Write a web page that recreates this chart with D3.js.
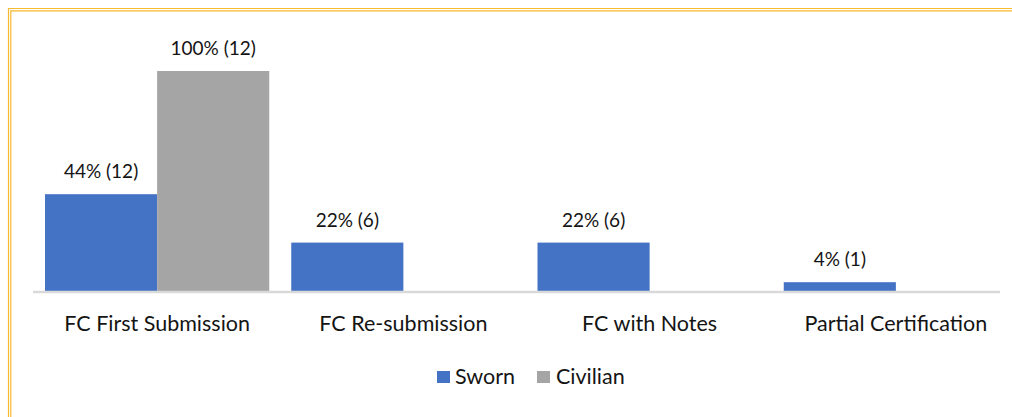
<!DOCTYPE html>
<html>
<head>
<meta charset="utf-8">
<script src="https://cdn.jsdelivr.net/npm/d3@7"></script>
<style>
  html, body { margin: 0; padding: 0; background: #fff; }
  svg { display: block; }
  text { font-family: Lato, "Open Sans", sans-serif; fill: #141414; }
</style>
</head>
<body>
<svg id="chart" width="1012" height="417"></svg>
<script>
// Certification outcomes by personnel type
const categories = ["FC First Submission", "FC Re-submission", "FC with Notes", "Partial Certification"];
const seriesNames = ["Sworn", "Civilian"];
const swornPct = [44, 22, 22, 4];
const swornCount = [12, 6, 6, 1];
const civilianPct = [100, null, null, null];
const civilianCount = [12, null, null, null];
const seriesColors = ["#4472C4", "#A5A5A5"];

const svg = d3.select("#chart");
const W = 1012, H = 417;

// Double orange frame along the top and left edges
const frame = svg.append("g").attr("fill", "none").attr("stroke", "#F7B92F").attr("stroke-width", 1.2);
[8.5, 10.8].forEach(o => {
  frame.append("path").attr("d", `M${o},${H} V${o} H${W}`);
});

const baseY = 291;
const topY = 71;

const x0 = d3.scaleBand().domain(categories).range([34, 1019]).paddingInner(0).paddingOuter(0);
const x1 = d3.scaleBand().domain(seriesNames).range([11, x0.bandwidth() - 11]).padding(0);
const y = d3.scaleLinear().domain([0, 100]).range([baseY, topY]);

const rows = categories.map((c, i) => ({
  category: c,
  values: [
    { series: "Sworn", pct: swornPct[i], count: swornCount[i] },
    { series: "Civilian", pct: civilianPct[i], count: civilianCount[i] }
  ].filter(d => d.pct != null)
}));

const groups = svg.append("g").selectAll("g")
  .data(rows).join("g")
  .attr("transform", d => `translate(${x0(d.category)},0)`);

groups.selectAll("rect")
  .data(d => d.values).join("rect")
  .attr("x", d => x1(d.series))
  .attr("width", x1.bandwidth())
  .attr("y", d => y(d.pct))
  .attr("height", d => baseY - y(d.pct))
  .attr("fill", d => seriesColors[seriesNames.indexOf(d.series)]);

groups.selectAll("text.val")
  .data(d => d.values).join("text")
  .attr("class", "val")
  .attr("x", d => x1(d.series) + x1.bandwidth() / 2)
  .attr("y", d => y(d.pct) - 16)
  .attr("text-anchor", "middle")
  .attr("font-size", 19)
  .text(d => `${d.pct}% (${d.count})`);

// Category axis line
svg.append("line")
  .attr("x1", 33).attr("x2", 1000)
  .attr("y1", baseY + 1).attr("y2", baseY + 1)
  .attr("stroke", "#D9D9D9").attr("stroke-width", 2.5);

const xAxis = d3.axisBottom(x0).tickSize(0).tickPadding(0);
const axisG = svg.append("g").attr("transform", `translate(0,${baseY})`).call(xAxis);
axisG.select(".domain").remove();
axisG.selectAll("text")
  .attr("y", 40)
  .attr("dy", 0)
  .attr("font-size", 21.5)
  .attr("font-family", "Lato, 'Open Sans', sans-serif")
  .attr("fill", "#141414");

// Legend
const legendItems = [
  { name: "Sworn", sq: 437, tx: 455 },
  { name: "Civilian", sq: 537, tx: 556 }
];
const legend = svg.append("g");
legendItems.forEach((d, i) => {
  legend.append("rect")
    .attr("x", d.sq).attr("y", 371).attr("width", 13).attr("height", 12)
    .attr("fill", seriesColors[i]);
  legend.append("text")
    .attr("x", d.tx).attr("y", 384)
    .attr("font-size", 21.5)
    .text(d.name);
});
</script>
</body>
</html>
